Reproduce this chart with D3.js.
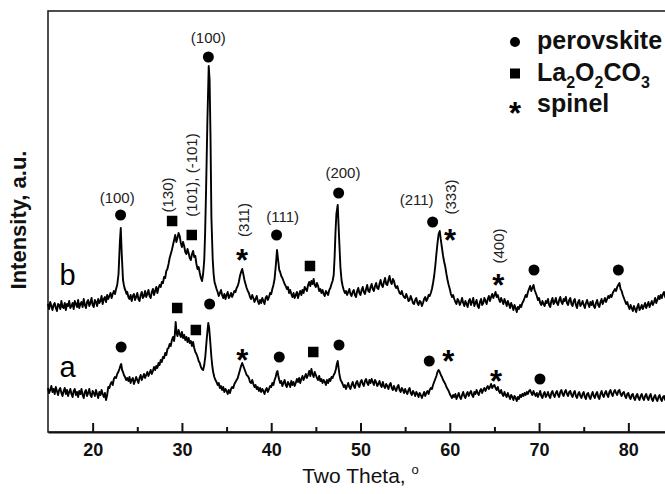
<!DOCTYPE html>
<html>
<head>
<meta charset="utf-8">
<script src="https://cdn.jsdelivr.net/npm/d3@7"></script>
<style>
  body { margin: 0; background: #fff; }
  svg { display: block; font-family: "Liberation Sans", Arial, sans-serif; }
</style>
</head>
<body>
<div id="chart"></div>
<script>
// XRD patterns, [two theta, intensity a.u.]
const patternB = [
  [15,128],[15.125,123],[15.25,130],[15.375,126],[15.5,122],[15.625,127],[15.75,129],[15.875,124],
  [16,121],[16.125,128],[16.25,127],[16.375,123],[16.5,131],[16.625,125],[16.75,124],[16.875,129],
  [17,122],[17.125,128],[17.25,126],[17.375,131],[17.5,124],[17.625,126],[17.75,129],[17.875,123],
  [18,131],[18.125,128],[18.25,125],[18.375,132],[18.5,124],[18.625,128],[18.75,130],[18.875,125],
  [19,133],[19.125,127],[19.25,124],[19.375,130],[19.5,132],[19.625,126],[19.75,129],[19.875,134],
  [20,127],[20.125,125],[20.25,132],[20.375,130],[20.5,126],[20.625,133],[20.75,129],[20.875,131],
  [21,136],[21.125,128],[21.25,133],[21.375,135],[21.5,130],[21.625,137],[21.75,133],[21.875,136],
  [22,139],[22.125,134],[22.25,138],[22.375,141],[22.5,138],[22.625,143],[22.75,147],
  [22.9,158],[23.05,190],[23.15,204],[23.25,180],[23.4,152],[23.5,147],[23.6,143],[23.7,141],[23.8,138],
  [23.875,140],[24,135],[24.125,133],[24.25,137],[24.375,131],[24.5,136],[24.625,138],[24.75,132],
  [24.875,135],[25,139],[25.125,133],[25.25,131],[25.375,137],[25.5,140],[25.625,134],[25.75,136],
  [25.875,141],[26,135],[26.125,138],[26.25,142],[26.375,136],[26.5,134],[26.625,140],[26.75,143],
  [26.875,137],[27,141],[27.125,145],[27.25,139],[27.375,144],[27.5,147],[27.625,145],[27.75,150],
  [27.875,149],[28,155],[28.125,154],[28.25,161],[28.375,163],[28.5,168],[28.625,174],[28.75,178],
  [28.875,182],[29,187],[29.125,192],[29.25,197],[29.375,190],[29.5,194],[29.625,199],[29.75,196],
  [29.875,189],[30,185],[30.125,190],[30.25,186],[30.375,180],[30.5,178],[30.625,183],[30.75,179],
  [30.875,174],[31,172],[31.125,178],[31.25,181],[31.375,175],[31.5,176],[31.625,168],[31.75,163],
  [31.875,165],[32,159],[32.125,154],[32.25,151],[32.375,158],[32.5,172],[32.6,200],[32.7,240],
  [32.85,310],[33,366],[33.1,352],[33.2,295],[33.3,215],[33.45,172],[33.55,158],[33.65,150],
  [33.75,147],[33.875,143],[34,140],[34.125,136],[34.25,139],[34.375,142],[34.5,137],[34.625,134],
  [34.75,138],[34.875,133],[35,137],[35.125,140],[35.25,134],[35.375,136],[35.5,139],[35.625,135],
  [35.75,138],[35.875,141],[36,140],[36.125,144],[36.25,146],[36.375,150],[36.5,156],[36.625,160],
  [36.75,163],[36.875,158],[37,152],[37.125,148],[37.25,144],[37.375,141],[37.5,139],[37.625,135],
  [37.75,133],[37.875,137],[38,134],[38.125,130],[38.25,133],[38.375,136],[38.5,131],[38.625,128],
  [38.75,132],[38.875,129],[39,134],[39.125,131],[39.25,128],[39.375,134],[39.5,136],[39.625,132],
  [39.75,135],[39.875,139],[40,138],[40.125,143],[40.25,147],[40.375,153],[40.5,165],[40.65,182],
  [40.8,170],[40.9,162],[41,160],[41.125,156],[41.25,154],[41.375,151],[41.5,148],[41.625,146],
  [41.75,143],[41.875,145],[42,139],[42.125,142],[42.25,138],[42.375,135],[42.5,139],[42.625,134],
  [42.75,137],[42.875,140],[43,134],[43.125,138],[43.25,141],[43.375,137],[43.5,142],[43.625,139],
  [43.75,145],[43.875,143],[44,141],[44.125,147],[44.25,150],[44.375,146],[44.5,151],[44.625,148],
  [44.75,153],[44.875,147],[45,145],[45.125,149],[45.25,146],[45.375,141],[45.5,143],[45.625,139],
  [45.75,142],[45.875,138],[46,136],[46.125,141],[46.25,139],[46.375,137],[46.5,142],[46.625,144],
  [46.75,148],[46.875,151],[47,157],[47.1,175],[47.2,200],[47.3,218],[47.45,227],[47.6,195],
  [47.75,165],[47.875,152],[48,146],[48.125,142],[48.25,139],[48.375,141],[48.5,137],[48.625,140],
  [48.75,143],[48.875,138],[49,136],[49.125,140],[49.25,142],[49.375,137],[49.5,135],[49.625,141],
  [49.75,144],[49.875,139],[50,137],[50.125,142],[50.25,145],[50.375,140],[50.5,138],[50.625,143],
  [50.75,147],[50.875,141],[51,140],[51.125,145],[51.25,148],[51.375,143],[51.5,141],[51.625,146],
  [51.75,149],[51.875,144],[52,143],[52.125,148],[52.25,152],[52.375,147],[52.5,145],[52.625,150],
  [52.75,154],[52.875,148],[53,147],[53.125,152],[53.25,156],[53.375,150],[53.5,148],[53.625,153],
  [53.75,151],[53.875,146],[54,144],[54.125,146],[54.25,142],[54.375,139],[54.5,138],[54.625,141],
  [54.75,137],[54.875,135],[55,134],[55.125,138],[55.25,135],[55.375,131],[55.5,132],[55.625,136],
  [55.75,133],[55.875,129],[56,128],[56.125,132],[56.25,134],[56.375,129],[56.5,127],[56.625,131],
  [56.75,130],[56.875,126],[57,129],[57.125,133],[57.25,135],[57.375,131],[57.5,133],[57.625,137],
  [57.75,136],[57.875,139],[58,143],[58.125,149],[58.25,156],[58.375,166],[58.5,178],[58.625,189],
  [58.75,198],[58.875,201],[59,192],[59.125,184],[59.25,176],[59.375,170],[59.5,165],[59.625,158],
  [59.75,152],[59.875,147],[60,143],[60.125,138],[60.25,135],[60.375,137],[60.5,133],[60.625,130],
  [60.75,128],[60.875,133],[61,131],[61.125,127],[61.25,130],[61.375,134],[61.5,129],[61.625,126],
  [61.75,131],[61.875,128],[62,125],[62.125,131],[62.25,133],[62.375,127],[62.5,130],[62.625,134],
  [62.75,126],[62.875,129],[63,132],[63.125,126],[63.25,124],[63.375,130],[63.5,133],[63.625,127],
  [63.75,129],[63.875,134],[64,131],[64.125,128],[64.25,133],[64.375,136],[64.5,131],[64.625,135],
  [64.75,138],[64.875,134],[65,137],[65.125,140],[65.25,135],[65.375,137],[65.5,133],[65.625,130],
  [65.75,134],[65.875,131],[66,128],[66.125,133],[66.25,130],[66.375,126],[66.5,131],[66.625,128],
  [66.75,124],[66.875,129],[67,126],[67.125,122],[67.25,127],[67.375,124],[67.5,120],[67.625,125],
  [67.75,123],[67.875,127],[68,125],[68.125,129],[68.25,131],[68.375,134],[68.5,137],[68.625,135],
  [68.75,140],[68.875,143],[69,146],[69.125,141],[69.25,144],[69.375,147],[69.5,142],[69.625,139],
  [69.75,136],[69.875,132],[70,134],[70.125,129],[70.25,127],[70.375,131],[70.5,128],[70.625,126],
  [70.75,131],[70.875,129],[71,133],[71.125,127],[71.25,125],[71.375,131],[71.5,134],[71.625,128],
  [71.75,130],[71.875,134],[72,129],[72.125,127],[72.25,132],[72.375,135],[72.5,130],[72.625,128],
  [72.75,133],[72.875,131],[73,135],[73.125,129],[73.25,127],[73.375,132],[73.5,134],[73.625,128],
  [73.75,126],[73.875,131],[74,133],[74.125,127],[74.25,124],[74.375,130],[74.5,132],[74.625,126],
  [74.75,128],[74.875,131],[75,127],[75.125,124],[75.25,129],[75.375,132],[75.5,128],[75.625,125],
  [75.75,130],[75.875,127],[76,131],[76.125,126],[76.25,124],[76.375,129],[76.5,132],[76.625,127],
  [76.75,125],[76.875,130],[77,133],[77.125,128],[77.25,131],[77.375,134],[77.5,130],[77.625,133],
  [77.75,136],[77.875,134],[78,137],[78.125,135],[78.25,139],[78.375,141],[78.5,143],[78.625,141],
  [78.75,145],[78.875,147],[79,149],[79.125,143],[79.25,141],[79.375,137],[79.5,134],[79.625,131],
  [79.75,128],[79.875,130],[80,126],[80.125,123],[80.25,127],[80.375,124],[80.5,121],[80.625,126],
  [80.75,123],[80.875,120],[81,125],[81.125,128],[81.25,122],[81.375,124],[81.5,127],[81.625,123],
  [81.75,126],[81.875,129],[82,124],[82.125,127],[82.25,130],[82.375,125],[82.5,128],[82.625,131],
  [82.75,127],[82.875,130],[83,134],[83.125,129],[83.25,132],[83.375,136],[83.5,133],[83.625,137],
  [83.75,134],[83.875,138],[84,140],[84.125,135],[84.25,133],[84.375,138],[84.5,140],[84.625,135],
  [84.75,133],[84.875,137],[85,136]
];

const patternA = [
  [15,44],[15.125,39],[15.25,42],[15.375,46],[15.5,40],[15.625,43],[15.75,38],[15.875,45],
  [16,41],[16.125,37],[16.25,42],[16.375,44],[16.5,39],[16.625,36],[16.75,41],[16.875,44],
  [17,38],[17.125,42],[17.25,36],[17.375,40],[17.5,43],[17.625,38],[17.75,35],[17.875,41],
  [18,43],[18.125,37],[18.25,40],[18.375,35],[18.5,41],[18.625,38],[18.75,43],[18.875,37],
  [19,34],[19.125,40],[19.25,42],[19.375,36],[19.5,39],[19.625,43],[19.75,37],[19.875,35],
  [20,41],[20.125,39],[20.25,36],[20.375,42],[20.5,38],[20.625,34],[20.75,40],[20.875,37],
  [21,42],[21.125,38],[21.25,35],[21.375,39],[21.5,32],[21.625,37],[21.75,45],[21.875,44],
  [22,48],[22.125,50],[22.25,47],[22.375,53],[22.5,55],[22.625,54],[22.75,58],[22.875,60],
  [23,63],[23.1,66],[23.2,68],[23.3,62],[23.4,60],[23.5,57],[23.625,55],[23.75,52],
  [23.875,54],[24,51],[24.125,55],[24.25,49],[24.375,52],[24.5,54],[24.625,48],[24.75,51],
  [24.875,55],[25,52],[25.125,49],[25.25,54],[25.375,57],[25.5,52],[25.625,55],[25.75,58],
  [25.875,54],[26,57],[26.125,60],[26.25,56],[26.375,59],[26.5,62],[26.625,58],[26.75,61],
  [26.875,65],[27,62],[27.125,66],[27.25,64],[27.375,69],[27.5,67],[27.625,72],[27.75,70],
  [27.875,75],[28,74],[28.125,79],[28.25,77],[28.375,83],[28.5,84],[28.625,88],[28.75,86],
  [28.875,92],[29,95],[29.125,91],[29.2,97],[29.3,110],[29.4,99],[29.5,96],[29.625,102],
  [29.75,98],[29.875,95],[30,100],[30.125,94],[30.25,97],[30.375,92],[30.5,95],[30.625,90],
  [30.75,94],[30.875,89],[31,91],[31.125,86],[31.25,90],[31.375,84],[31.5,80],[31.625,78],
  [31.75,75],[31.875,71],[32,69],[32.125,65],[32.25,63],[32.375,62],[32.5,67],[32.625,76],
  [32.75,90],[32.85,100],[32.95,109],[33.05,104],[33.15,93],[33.3,75],[33.4,66],[33.5,60],
  [33.625,55],[33.75,52],[33.875,50],[34,47],[34.125,49],[34.25,44],[34.375,46],[34.5,42],
  [34.625,45],[34.75,40],[34.875,43],[35,41],[35.125,38],[35.25,42],[35.375,39],[35.5,43],
  [35.625,45],[35.75,44],[35.875,48],[36,50],[36.125,52],[36.25,54],[36.375,58],[36.5,62],
  [36.625,66],[36.75,69],[36.875,66],[37,63],[37.125,60],[37.25,57],[37.375,56],[37.5,54],
  [37.625,50],[37.75,49],[37.875,52],[38,48],[38.125,45],[38.25,47],[38.375,43],[38.5,45],
  [38.625,41],[38.75,44],[38.875,40],[39,43],[39.125,41],[39.25,38],[39.375,42],[39.5,44],
  [39.625,40],[39.75,43],[39.875,46],[40,45],[40.125,49],[40.25,47],[40.375,52],[40.5,55],
  [40.6,59],[40.7,61],[40.8,56],[40.9,52],[41,49],[41.125,51],[41.25,46],[41.375,49],
  [41.5,52],[41.625,47],[41.75,45],[41.875,50],[42,48],[42.125,45],[42.25,51],[42.375,47],
  [42.5,50],[42.625,46],[42.75,49],[42.875,53],[43,50],[43.125,54],[43.25,49],[43.375,53],
  [43.5,56],[43.625,52],[43.75,55],[43.875,58],[44,54],[44.125,57],[44.25,61],[44.375,56],
  [44.5,63],[44.625,58],[44.75,55],[44.875,60],[45,57],[45.125,54],[45.25,52],[45.375,56],
  [45.5,51],[45.625,53],[45.75,49],[45.875,52],[46,50],[46.125,47],[46.25,52],[46.375,49],
  [46.5,53],[46.625,51],[46.75,55],[46.875,54],[47,57],[47.125,59],[47.25,63],[47.35,68],
  [47.45,71],[47.55,64],[47.65,57],[47.775,52],[47.9,50],[48,48],[48.125,45],[48.25,47],
  [48.375,43],[48.5,46],[48.625,49],[48.75,45],[48.875,43],[49,47],[49.125,50],[49.25,46],
  [49.375,44],[49.5,49],[49.625,51],[49.75,47],[49.875,45],[50,50],[50.125,52],[50.25,48],
  [50.375,46],[50.5,51],[50.625,53],[50.75,49],[50.875,47],[51,52],[51.125,49],[51.25,53],
  [51.375,50],[51.5,47],[51.625,52],[51.75,50],[51.875,46],[52,48],[52.125,51],[52.25,47],
  [52.375,45],[52.5,50],[52.625,46],[52.75,44],[52.875,48],[53,46],[53.125,43],[53.25,47],
  [53.375,49],[53.5,44],[53.625,42],[53.75,46],[53.875,43],[54,41],[54.125,45],[54.25,47],
  [54.375,42],[54.5,40],[54.625,44],[54.75,42],[54.875,39],[55,43],[55.125,40],[55.25,38],
  [55.375,42],[55.5,44],[55.625,39],[55.75,37],[55.875,41],[56,39],[56.125,36],[56.25,40],
  [56.375,38],[56.5,35],[56.625,39],[56.75,37],[56.875,34],[57,37],[57.125,40],[57.25,36],
  [57.375,39],[57.5,41],[57.625,38],[57.75,42],[57.875,44],[58,43],[58.125,47],[58.25,50],
  [58.375,53],[58.5,56],[58.625,60],[58.75,62],[58.875,60],[59,57],[59.125,55],[59.25,52],
  [59.375,50],[59.5,48],[59.625,45],[59.75,43],[59.875,41],[60,38],[60.125,36],[60.25,34],
  [60.375,37],[60.5,35],[60.625,38],[60.75,33],[60.875,36],[61,39],[61.125,35],[61.25,33],
  [61.375,37],[61.5,40],[61.625,36],[61.75,34],[61.875,38],[62,40],[62.125,36],[62.25,39],
  [62.375,41],[62.5,37],[62.625,35],[62.75,40],[62.875,38],[63,42],[63.125,39],[63.25,37],
  [63.375,41],[63.5,43],[63.625,39],[63.75,42],[63.875,44],[64,41],[64.125,44],[64.25,46],
  [64.375,43],[64.5,45],[64.625,48],[64.75,44],[64.875,46],[65,47],[65.125,44],[65.25,42],
  [65.375,45],[65.5,41],[65.625,39],[65.75,42],[65.875,38],[66,36],[66.125,40],[66.25,37],
  [66.375,35],[66.5,39],[66.625,36],[66.75,33],[66.875,37],[67,35],[67.125,32],[67.25,36],
  [67.375,34],[67.5,31],[67.625,35],[67.75,33],[67.875,37],[68,35],[68.125,38],[68.25,36],
  [68.375,39],[68.5,37],[68.625,40],[68.75,38],[68.875,41],[69,42],[69.125,39],[69.25,37],
  [69.375,41],[69.5,38],[69.625,36],[69.75,39],[69.875,35],[70,38],[70.125,41],[70.25,36],
  [70.375,34],[70.5,38],[70.625,40],[70.75,35],[70.875,37],[71,40],[71.125,36],[71.25,34],
  [71.375,39],[71.5,41],[71.625,37],[71.75,35],[71.875,39],[72,41],[72.125,37],[72.25,35],
  [72.375,40],[72.5,42],[72.625,38],[72.75,36],[72.875,40],[73,42],[73.125,38],[73.25,36],
  [73.375,40],[73.5,41],[73.625,37],[73.75,35],[73.875,39],[74,41],[74.125,36],[74.25,34],
  [74.375,38],[74.5,40],[74.625,36],[74.75,34],[74.875,38],[75,40],[75.125,35],[75.25,33],
  [75.375,38],[75.5,39],[75.625,35],[75.75,33],[75.875,37],[76,40],[76.125,36],[76.25,34],
  [76.375,38],[76.5,40],[76.625,35],[76.75,33],[76.875,38],[77,41],[77.125,37],[77.25,35],
  [77.375,39],[77.5,41],[77.625,37],[77.75,35],[77.875,40],[78,42],[78.125,38],[78.25,36],
  [78.375,40],[78.5,42],[78.625,39],[78.75,37],[78.875,41],[79,42],[79.125,38],[79.25,36],
  [79.375,39],[79.5,40],[79.625,36],[79.75,34],[79.875,38],[80,39],[80.125,35],[80.25,33],
  [80.375,37],[80.5,38],[80.625,34],[80.75,32],[80.875,36],[81,38],[81.125,34],[81.25,32],
  [81.375,36],[81.5,38],[81.625,34],[81.75,32],[81.875,36],[82,38],[82.125,34],[82.25,32],
  [82.375,36],[82.5,38],[82.625,33],[82.75,31],[82.875,35],[83,37],[83.125,33],[83.25,31],
  [83.375,35],[83.5,37],[83.625,33],[83.75,31],[83.875,35],[84,36],[84.125,32],[84.25,31],
  [84.375,35],[84.5,37],[84.625,33],[84.75,31],[84.875,35],[85,36]
];

// phase markers: [two theta, intensity, phase]
const markersB = [
  [23.13,217,"perovskite"],[28.9,211,"La2O2CO3"],[31.1,197,"La2O2CO3"],[32.96,375,"perovskite"],
  [36.72,180,"spinel"],[40.6,197,"perovskite"],[44.34,166,"La2O2CO3"],[47.55,239,"perovskite"],
  [58.08,210,"perovskite"],[60.02,200,"spinel"],[65.43,155,"spinel"],[69.43,162,"perovskite"],
  [78.88,162,"perovskite"]
];
const markersA = [
  [23.19,85,"perovskite"],[29.47,124,"La2O2CO3"],[31.56,102,"La2O2CO3"],[33.1,128,"perovskite"],
  [36.77,80,"spinel"],[40.9,75,"perovskite"],[44.71,80,"La2O2CO3"],[47.59,87,"perovskite"],
  [57.7,71,"perovskite"],[59.83,79,"spinel"],[65.18,59,"spinel"],[70.1,53,"perovskite"]
];

// Miller indices: [two theta, intensity, text]
const flatLabels = [
  [22.75,234,"(100)"],[32.96,394,"(100)"],[41.28,215,"(111)"],[48.03,259,"(200)"],[56.29,232,"(211)"]
];
const verticalLabels = [
  [28.45,237,"(130)"],[31.06,257,"(101), (-101)"],[36.94,212,"(311)"],[60.13,235,"(333)"],[65.51,186,"(400)"]
];

const curveNames = [[17.2,157,"b"],[17.2,65,"a"]];
const legendItems = ["perovskite","La2O2CO3","spinel"];
const majorTicks = [20,30,40,50,60,70,80];
const minorTicks = [25,35,45,55,65,75];

const width = 665, height = 494;
const margin = { top: 11, left: 48, bottom: 62 };

const x = d3.scaleLinear().domain([15, 85]).range([margin.left, 673]);
const y = d3.scaleLinear().domain([0, 421]).range([height - margin.bottom, margin.top]);

const svg = d3.select("#chart").append("svg")
  .attr("width", width)
  .attr("height", height);

// frame
svg.append("rect")
  .attr("x", x(15)).attr("y", y(421))
  .attr("width", x(85) - x(15)).attr("height", y(0) - y(421))
  .attr("fill", "none").attr("stroke", "#222").attr("stroke-width", 1.6);

const line = d3.line().x(d => x(d[0])).y(d => y(d[1]));

[patternB, patternA].forEach(p => {
  svg.append("path")
    .datum(p)
    .attr("fill", "none")
    .attr("stroke", "#000")
    .attr("stroke-width", 1.9)
    .attr("stroke-linejoin", "round")
    .attr("d", line);
});

// x axis
const xAxis = svg.append("g")
  .attr("transform", `translate(0,${y(0)})`)
  .call(d3.axisBottom(x).tickValues(majorTicks).tickSize(-9).tickSizeOuter(0).tickPadding(11));
xAxis.select(".domain").attr("stroke", "#111").attr("stroke-width", 2);
xAxis.selectAll(".tick line").attr("stroke", "#111").attr("stroke-width", 2);
xAxis.selectAll(".tick text")
  .attr("fill", "#111")
  .style("font-size", "18px")
  .style("font-weight", "bold")
  .style("font-family", "Liberation Sans, Arial, sans-serif");

svg.append("g")
  .attr("transform", `translate(0,${y(0)})`)
  .call(d3.axisBottom(x).tickValues(minorTicks).tickSize(-5).tickSizeOuter(0).tickFormat(""))
  .call(g => g.select(".domain").remove())
  .selectAll(".tick line").attr("stroke", "#111").attr("stroke-width", 2);

// axis titles
const xTitle = svg.append("text")
  .attr("x", x(50)).attr("y", 483)
  .attr("text-anchor", "middle")
  .style("font-size", "21px")
  .attr("fill", "#111")
  .text("Two Theta, ");
xTitle.append("tspan").attr("dy", -9).style("font-size", "13px").text("o");

svg.append("text")
  .attr("transform", `translate(26,${220}) rotate(-90)`)
  .attr("text-anchor", "middle")
  .style("font-size", "22px")
  .style("font-weight", "bold")
  .attr("fill", "#111")
  .text("Intensity, a.u.");

// markers
function drawMarker(g, phase, cx, cy, big) {
  if (phase === "perovskite") {
    g.append("circle").attr("cx", cx).attr("cy", cy).attr("r", big ? 5.5 : 5).attr("fill", "#000");
  } else if (phase === "La2O2CO3") {
    const s = big ? 10.5 : 10;
    g.append("rect").attr("x", cx - s / 2).attr("y", cy - s / 2).attr("width", s).attr("height", s).attr("fill", "#000");
  } else {
    g.append("text").attr("x", cx).attr("y", cy).attr("dy", "0.6em")
      .attr("text-anchor", "middle")
      .style("font-size", "31px").style("font-weight", "bold")
      .text("*");
  }
}

const markG = svg.append("g");
markersB.concat(markersA).forEach(d => drawMarker(markG, d[2], x(d[0]), y(d[1]), true));

// Miller index labels
svg.append("g").selectAll("text")
  .data(flatLabels)
  .join("text")
  .attr("x", d => x(d[0]))
  .attr("y", d => y(d[1]))
  .attr("dy", "0.35em")
  .attr("text-anchor", "middle")
  .style("font-size", "15px")
  .attr("fill", "#222")
  .text(d => d[2]);

svg.append("g").selectAll("text")
  .data(verticalLabels)
  .join("text")
  .attr("transform", d => `translate(${x(d[0])},${y(d[1])}) rotate(-90)`)
  .attr("dy", "0.35em")
  .attr("text-anchor", "middle")
  .style("font-size", "15px")
  .attr("fill", "#222")
  .text(d => d[2]);

// curve names
svg.append("g").selectAll("text")
  .data(curveNames)
  .join("text")
  .attr("x", d => x(d[0]))
  .attr("y", d => y(d[1]))
  .attr("dy", "0.35em")
  .attr("text-anchor", "middle")
  .style("font-size", "29px")
  .text(d => d[2]);

// legend
const legend = svg.append("g").attr("transform", "translate(515,42)");
legendItems.forEach((name, i) => {
  const row = legend.append("g").attr("transform", `translate(0,${i * 31.5})`);
  drawMarker(row, name, 0, 0, false);
  const t = row.append("text")
    .attr("x", 22).attr("y", 7)
    .style("font-size", "25px").style("font-weight", "bold")
    .attr("fill", "#111");
  if (name === "La2O2CO3") {
    t.append("tspan").text("La");
    t.append("tspan").attr("dy", 7).style("font-size", "16px").text("2");
    t.append("tspan").attr("dy", -7).text("O");
    t.append("tspan").attr("dy", 7).style("font-size", "16px").text("2");
    t.append("tspan").attr("dy", -7).text("CO");
    t.append("tspan").attr("dy", 7).style("font-size", "16px").text("3");
  } else {
    t.text(name);
  }
});
</script>
</body>
</html>
